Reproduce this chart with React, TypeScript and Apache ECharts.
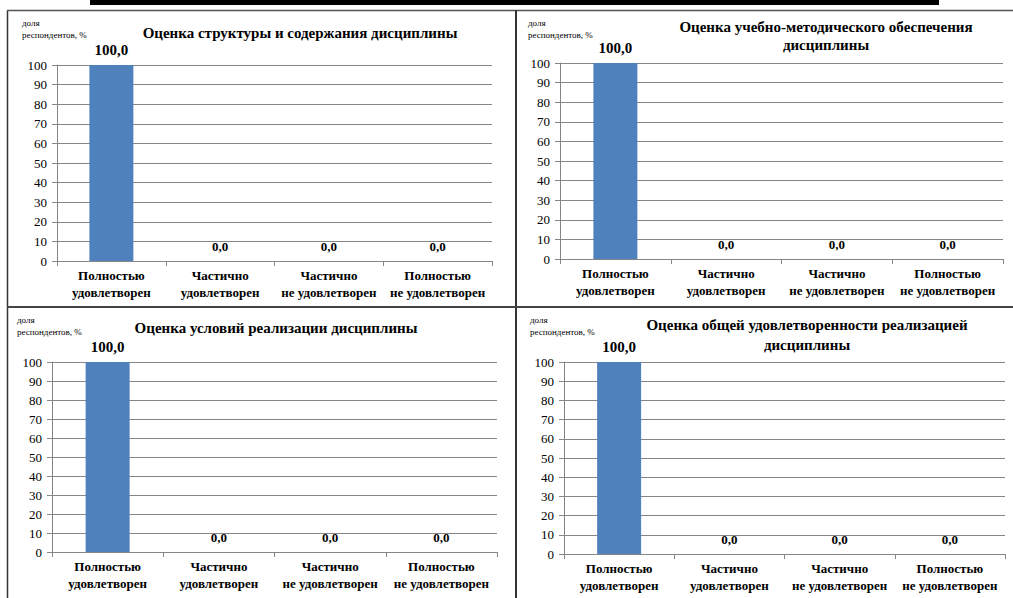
import React, { useEffect, useRef } from "react";
import * as echarts from "echarts";

const categories = [
  "Полностью\nудовлетворен",
  "Частично\nудовлетворен",
  "Частично\nне удовлетворен",
  "Полностью\nне удовлетворен",
];

const titles = [
  "Оценка структуры и содержания дисциплины",
  "Оценка учебно-методического обеспечения\nдисциплины",
  "Оценка условий реализации дисциплины",
  "Оценка общей удовлетворенности реализацией\nдисциплины",
];

const valuesStructure = [100.0, 0.0, 0.0, 0.0];
const valuesMethodical = [100.0, 0.0, 0.0, 0.0];
const valuesConditions = [100.0, 0.0, 0.0, 0.0];
const valuesOverall = [100.0, 0.0, 0.0, 0.0];

const yAxisName = "доля\nреспондентов, %";
const yMin = 0;
const yMax = 100;
const yStep = 10;

const FONT = "Liberation Serif";

const panels = [
  { grid: { left: 57, right: 521, top: 65, bottom: 337 }, title: { x: 300, y: 24, lh: 18 }, name: { x: 22, y: 17 }, values: valuesStructure },
  { grid: { left: 560, right: 10, top: 63, bottom: 339 }, title: { x: 826, y: 18, lh: 18 }, name: { x: 528, y: 17 }, values: valuesMethodical },
  { grid: { left: 52, right: 516, top: 362, bottom: 46 }, title: { x: 276, y: 319, lh: 18 }, name: { x: 17, y: 314 }, values: valuesConditions },
  { grid: { left: 564, right: 8, top: 362, bottom: 44 }, title: { x: 807, y: 315, lh: 20 }, name: { x: 530, y: 314 }, values: valuesOverall },
];

export default function App() {
  const ref = useRef<HTMLDivElement>(null);

  useEffect(() => {
    if (!ref.current) return;
    const chart = echarts.init(ref.current, null, { renderer: "svg" });

    const axisGray = "#868686";

    const option: any = {
      animation: false,
      backgroundColor: "#ffffff",
      textStyle: { fontFamily: FONT },
      title: panels.map((p, i) => ({
        text: titles[i],
        left: p.title.x,
        top: p.title.y,
        textAlign: "center",
        padding: 0,
        textStyle: {
          fontFamily: FONT,
          fontSize: 15,
          fontWeight: "bold",
          color: "#000",
          lineHeight: p.title.lh,
        },
      })),
      grid: panels.map((p) => ({ ...p.grid, containLabel: false })),
      xAxis: panels.map((_, i) => ({
        type: "category",
        gridIndex: i,
        data: categories,
        boundaryGap: true,
        axisLine: { show: true, lineStyle: { color: axisGray, width: 1 } },
        axisTick: { show: true, alignWithLabel: false, length: 5, lineStyle: { color: axisGray } },
        axisLabel: {
          interval: 0,
          fontFamily: FONT,
          fontSize: 13,
          fontWeight: "bold",
          color: "#000",
          lineHeight: 17,
          margin: 6,
        },
        splitLine: { show: false },
      })),
      yAxis: panels.map((_, i) => ({
        type: "value",
        gridIndex: i,
        min: yMin,
        max: yMax,
        interval: yStep,
        axisLine: { show: true, lineStyle: { color: axisGray, width: 1 } },
        axisTick: { show: true, length: 5, lineStyle: { color: axisGray } },
        axisLabel: {
          fontFamily: FONT,
          fontSize: 13,
          color: "#000",
          margin: 10,
        },
        splitLine: { show: true, lineStyle: { color: axisGray, width: 1 } },
      })),
      series: panels.map((p, i) => ({
        type: "bar",
        xAxisIndex: i,
        yAxisIndex: i,
        data: p.values,
        barWidth: 44,
        itemStyle: { color: "#4f81bd" },
        label: {
          show: true,
          position: "top",
          distance: 8,
          fontFamily: FONT,
          fontWeight: "bold",
          color: "#000",
          formatter: (params: any) => {
            const txt = Number(params.value).toFixed(1).replace(".", ",");
            return params.value >= 50 ? `{big|${txt}}` : `{small|${txt}}`;
          },
          rich: {
            big: { fontFamily: FONT, fontWeight: "bold", fontSize: 15, color: "#000" },
            small: { fontFamily: FONT, fontWeight: "bold", fontSize: 13, color: "#000" },
          },
        },
      })),
      graphic: [
        { type: "rect", shape: { x: 90, y: 0, width: 849, height: 5 }, style: { fill: "#000" } },
        { type: "line", shape: { x1: 7.5, y1: 10.5, x2: 7.5, y2: 598 }, style: { stroke: "#333", lineWidth: 1.5 } },
        { type: "line", shape: { x1: 7, y1: 10.5, x2: 1013, y2: 10.5 }, style: { stroke: "#555", lineWidth: 1.5 } },
        { type: "line", shape: { x1: 516, y1: 10, x2: 516, y2: 598 }, style: { stroke: "#333", lineWidth: 2 } },
        { type: "line", shape: { x1: 7, y1: 307, x2: 1013, y2: 307 }, style: { stroke: "#444", lineWidth: 2 } },
        ...panels.map((p) => ({
          type: "text",
          x: p.name.x,
          y: p.name.y,
          style: {
            text: yAxisName,
            fontFamily: FONT,
            fontSize: 9,
            lineHeight: 12,
            fill: "#000",
            textAlign: "left",
            textVerticalAlign: "top",
          },
        })),
      ],
    };

    chart.setOption(option);
    return () => chart.dispose();
  }, []);

  return (
    <div
      ref={ref}
      style={{ position: "fixed", left: 0, top: 0, width: 1013, height: 598 }}
    />
  );
}
